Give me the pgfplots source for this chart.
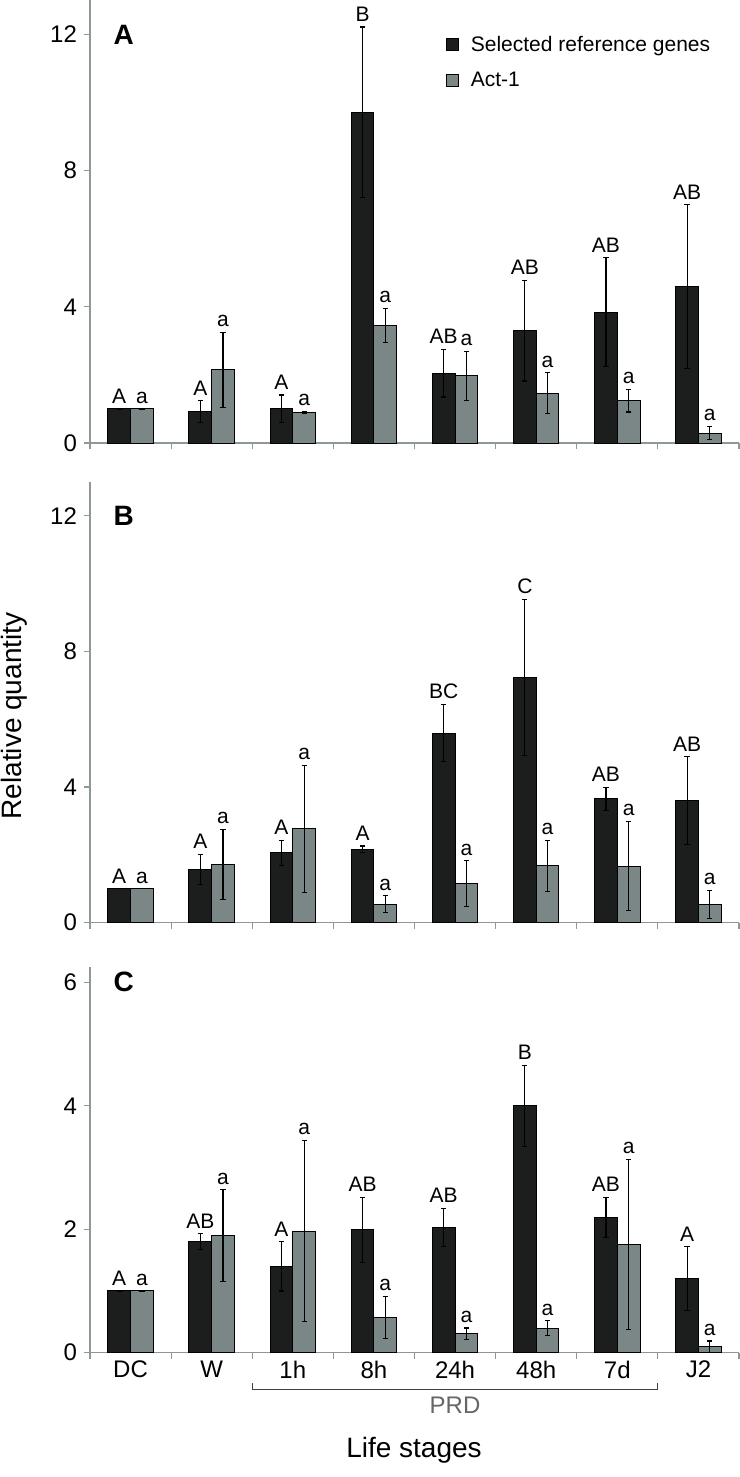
\documentclass[border=0pt]{standalone}
\usepackage{fontspec}
\setmainfont{Liberation Sans}
\usepackage{pgfplots}
\pgfplotsset{compat=1.18}
\usepackage{pgfplotstable}

\definecolor{blackbar}{HTML}{1B1E1D}
\definecolor{greybar}{HTML}{7B8786}
\definecolor{axisgrey}{HTML}{8E9897}

\newcommand\lab{\fontsize{10.5}{12}\selectfont}

% x b be g ge bl gl  (b = selected reference genes, g = Act-1)
\pgfplotstableread{
x b be g ge bl gl
0 1.00 0.00 1.00 0.00 A a
1 0.92 0.32 2.15 1.10 A a
2 1.01 0.40 0.90 0.03 A a
3 9.72 2.50 3.45 0.50 B a
4 2.05 0.70 1.97 0.72 AB a
5 3.30 1.48 1.46 0.60 AB a
6 3.84 1.60 1.24 0.33 AB a
7 4.60 2.40 0.29 0.20 AB a
}\tabA
\pgfplotstableread{
x b be g ge bl gl
0 1.00 0.00 1.00 0.00 A a
1 1.57 0.45 1.72 1.04 A a
2 2.06 0.37 2.77 1.87 A a
3 2.16 0.10 0.55 0.24 A a
4 5.59 0.84 1.15 0.68 BC a
5 7.23 2.30 1.68 0.75 C a
6 3.65 0.34 1.67 1.32 AB a
7 3.60 1.29 0.54 0.41 AB a
}\tabB
\pgfplotstableread{
x b be g ge bl gl
0 1.00 0.00 1.00 0.00 A a
1 1.80 0.13 1.90 0.74 AB a
2 1.40 0.40 1.97 1.47 A a
3 1.99 0.53 0.57 0.34 AB a
4 2.03 0.31 0.31 0.09 AB a
5 4.00 0.66 0.40 0.12 B a
6 2.19 0.33 1.75 1.38 AB a
7 1.20 0.52 0.10 0.09 A a
}\tabC

\pgfplotsset{
  panel/.style={
    scale only axis,
    width=324.5pt,
    anchor=south west,
    xmin=-0.5, xmax=7.5, ymin=0,
    axis x line*=bottom, axis y line*=left,
    axis line style={-, axisgrey, line width=0.6pt},
    every tick/.style={axisgrey, line width=0.6pt},
    tick align=outside,
    major tick length=3pt, minor tick length=3pt,
    xtick={0,...,7},
    major x tick style={draw=none},
    minor xtick={-0.5,0.5,...,7.5},
    xticklabels={},
    tick label style={font=\fontsize{12}{14}\selectfont, text=black},
    /pgf/number format/assume math mode=true,
    clip=false,
    legend image code/.code={\draw[##1, draw=black, line width=0.4pt] (0pt,-3pt) rectangle (6pt,3pt);},
  },
  errs/.style={error bars/.cd, y dir=both, y explicit,
    error bar style={black, line width=0.55pt},
    error mark options={rotate=90, mark size=1.3pt, black, line width=0.55pt}},
  blackbars/.style={ybar, bar width=0.28, bar shift=0pt, fill=blackbar, draw=black, line width=0.5pt, errs},
  greybars/.style={ybar, bar width=0.28, bar shift=0pt, fill=greybar, draw=black, line width=0.5pt, errs},
  letters/.style={draw=none, mark=none, forget plot, nodes near coords, point meta=explicit symbolic,
    nodes near coords style={font=\lab, anchor=south, text=black, inner sep=2.5pt}},
}

\begin{document}
\begin{tikzpicture}
\useasboundingbox (0,0) rectangle (369.5pt,-738.5pt);

% ---------- A ----------
\begin{axis}[panel, at={(45pt,-221.5pt)}, height=221.3pt, ymax=13, ytick={0,4,8,12},
    legend cell align=left,
    legend style={at={(0.548,0.93)}, anchor=north west, draw=none, fill=none, inner sep=0pt,
      font=\fontsize{10.5}{12}\selectfont, row sep=5pt,
      /tikz/every odd column/.append style={column sep=4pt}}]
\addplot[blackbars] table[x expr=\thisrow{x}-0.14, y=b, y error=be] {\tabA};
\addlegendentry{Selected reference genes}
\addplot[greybars] table[x expr=\thisrow{x}+0.14, y=g, y error=ge] {\tabA};
\addlegendentry{Act-1}
\addplot[letters] table[x expr=\thisrow{x}-0.14, y expr=\thisrow{b}+\thisrow{be}, meta=bl] {\tabA};
\addplot[letters] table[x expr=\thisrow{x}+0.14, y expr=\thisrow{g}+\thisrow{ge}, meta=gl] {\tabA};
\node[font=\bfseries\fontsize{14}{16}\selectfont] at (axis cs:-0.084,12) {A};
\end{axis}

% ---------- B ----------
\begin{axis}[panel, at={(45pt,-461.35pt)}, height=220.5pt, ymax=13, ytick={0,4,8,12}]
\addplot[blackbars] table[x expr=\thisrow{x}-0.14, y=b, y error=be] {\tabB};
\addplot[greybars] table[x expr=\thisrow{x}+0.14, y=g, y error=ge] {\tabB};
\addplot[letters] table[x expr=\thisrow{x}-0.14, y expr=\thisrow{b}+\thisrow{be}, meta=bl] {\tabB};
\addplot[letters] table[x expr=\thisrow{x}+0.14, y expr=\thisrow{g}+\thisrow{ge}, meta=gl] {\tabB};
\node[font=\bfseries\fontsize{14}{16}\selectfont] at (axis cs:-0.084,12) {B};
\end{axis}

% ---------- C ----------
\begin{axis}[panel, at={(45pt,-676.35pt)}, height=192.9pt, ymax=6.25, ytick={0,2,4,6},
    xticklabels={DC,W,1h,8h,24h,48h,7d,J2},
    xticklabel style={inner sep=0pt, yshift=-1pt}]
\addplot[blackbars] table[x expr=\thisrow{x}-0.14, y=b, y error=be] {\tabC};
\addplot[greybars] table[x expr=\thisrow{x}+0.14, y=g, y error=ge] {\tabC};
\addplot[letters] table[x expr=\thisrow{x}-0.14, y expr=\thisrow{b}+\thisrow{be}, meta=bl] {\tabC};
\addplot[letters] table[x expr=\thisrow{x}+0.14, y expr=\thisrow{g}+\thisrow{ge}, meta=gl] {\tabC};
\node[font=\bfseries\fontsize{14}{16}\selectfont] at (axis cs:-0.084,6) {C};
\end{axis}

% PRD bracket and axis titles
\draw[black!75, line width=0.5pt] (126.1pt,-691.5pt) -- (126.1pt,-694.5pt) -- (328.85pt,-694.5pt) -- (328.85pt,-691.5pt);
\node[anchor=base, font=\fontsize{12}{14}\selectfont, text=black!60] at (227.5pt,-706.5pt) {PRD};
\node[anchor=base, font=\fontsize{14}{16}\selectfont] at (207pt,-728.5pt) {Life stages};
\node[rotate=90, font=\fontsize{14}{16}\selectfont] at (7pt,-358pt) {Relative quantity};
\end{tikzpicture}
\end{document}
